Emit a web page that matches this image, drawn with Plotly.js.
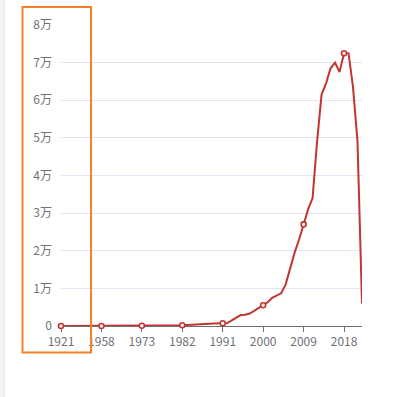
<!DOCTYPE html>
<html>
<head>
<meta charset="utf-8">
<script src="https://cdn.plot.ly/plotly-3.0.1.min.js"></script>
<style>
  html, body { margin: 0; padding: 0; background: #ffffff; }
  #chart { width: 393px; height: 397px; }
</style>
</head>
<body>
<div id="chart"></div>
<script>
// Categories (x axis is a category axis: early years are sparse)
var years = [
  "1921","1927","1935","1945","1949","1950","1952","1954","1956",
  "1958","1959","1961","1963","1965","1967","1969","1971","1972",
  "1973","1974","1975","1976","1977","1978","1979","1980","1981",
  "1982","1983","1984","1985","1986","1987","1988","1989","1990",
  "1991","1992","1993","1994","1995","1996","1997","1998","1999",
  "2000","2001","2002","2003","2004","2005","2006","2007","2008",
  "2009","2010","2011","2012","2013","2014","2015","2016","2017",
  "2018","2019","2020","2021","2022"
];
var values = [
  0, 0, 0, 0, 5, 5, 10, 10, 10,
  15, 15, 20, 20, 25, 30, 30, 35, 40,
  50, 60, 70, 80, 90, 100, 120, 150, 180,
  200, 250, 350, 450, 500, 550, 600, 650, 700,
  750, 800, 1500, 2300, 2900, 3000, 3300, 4000, 4800,
  5500, 6300, 7500, 8200, 8700, 11000, 15500, 19500, 23000,
  27000, 31000, 34000, 49000, 61500, 64500, 68500, 70000, 67500,
  72500, 72500, 63500, 49000, 6000
];
// Labelled categories (also where symbols are shown)
var tickYears = ["1921","1958","1973","1982","1991","2000","2009","2018"];
var yTickVals = [0, 10000, 20000, 30000, 40000, 50000, 60000, 70000, 80000];
var yTickText = ["0", "1万", "2万", "3万", "4万", "5万", "6万", "7万", "8万"];

var markX = [], markY = [];
for (var i = 0; i < years.length; i++) {
  if (tickYears.indexOf(years[i]) >= 0) { markX.push(years[i]); markY.push(values[i]); }
}

var L = 61, R = 31, T = 25, B = 71, W = 393, H = 397;
var pw = W - L - R, ph = H - T - B;
function px(x) { return (x - L) / pw; }
function py(y) { return (H - B - y) / ph; }

var traces = [
  {
    x: years, y: values, type: "scatter", mode: "lines",
    line: { color: "#c23531", width: 2 },
    cliponaxis: false,
    hoverinfo: "x+y", showlegend: false
  },
  {
    x: markX, y: markY, type: "scatter", mode: "markers",
    marker: { symbol: "circle", size: 5, color: "#ffffff", line: { color: "#c23531", width: 1.6 } },
    cliponaxis: false,
    hoverinfo: "x+y", showlegend: false
  }
];

var font = { family: "'Noto Sans CJK SC', 'DejaVu Sans', sans-serif", size: 12, color: "#6E7079" };

var layout = {
  width: W, height: H,
  margin: { l: L, r: R, t: T, b: B, pad: 0 },
  paper_bgcolor: "#ffffff", plot_bgcolor: "#ffffff",
  font: font,
  showlegend: false,
  xaxis: {
    type: "category",
    categoryorder: "array", categoryarray: years,
    range: [0, years.length - 1],
    tickmode: "array", tickvals: tickYears, ticktext: tickYears,
    showline: true, linecolor: "#6E7079", linewidth: 1,
    ticks: "outside", ticklen: 5, tickcolor: "#6E7079", tickwidth: 1,
    showgrid: false, zeroline: false,
    layer: "below traces",
    tickfont: font, fixedrange: true
  },
  yaxis: {
    range: [0, 80000],
    tickmode: "array", tickvals: yTickVals, ticktext: yTickText,
    showgrid: true, gridcolor: "#E0E6F1", gridwidth: 1,
    showline: false, zeroline: false, ticks: "",
    ticklabelstandoff: 8,
    layer: "below traces",
    tickfont: font, fixedrange: true
  },
  shapes: [
    { type: "rect", xref: "paper", yref: "paper", layer: "below",
      x0: px(0), x1: px(4), y0: py(H), y1: py(0),
      fillcolor: "#f2f4f4", line: { width: 0 } },
    { type: "line", xref: "paper", yref: "paper", layer: "below",
      x0: px(4.5), x1: px(4.5), y0: py(H), y1: py(0),
      line: { color: "#e6e9e9", width: 1 } },
    { type: "rect", xref: "paper", yref: "paper", layer: "above",
      x0: px(22.5), x1: px(91), y0: py(352.5), y1: py(7),
      fillcolor: "rgba(0,0,0,0)", line: { color: "#f7812b", width: 2 } }
  ]
};

Plotly.newPlot("chart", traces, layout, { displayModeBar: false, staticPlot: true });
</script>
</body>
</html>
